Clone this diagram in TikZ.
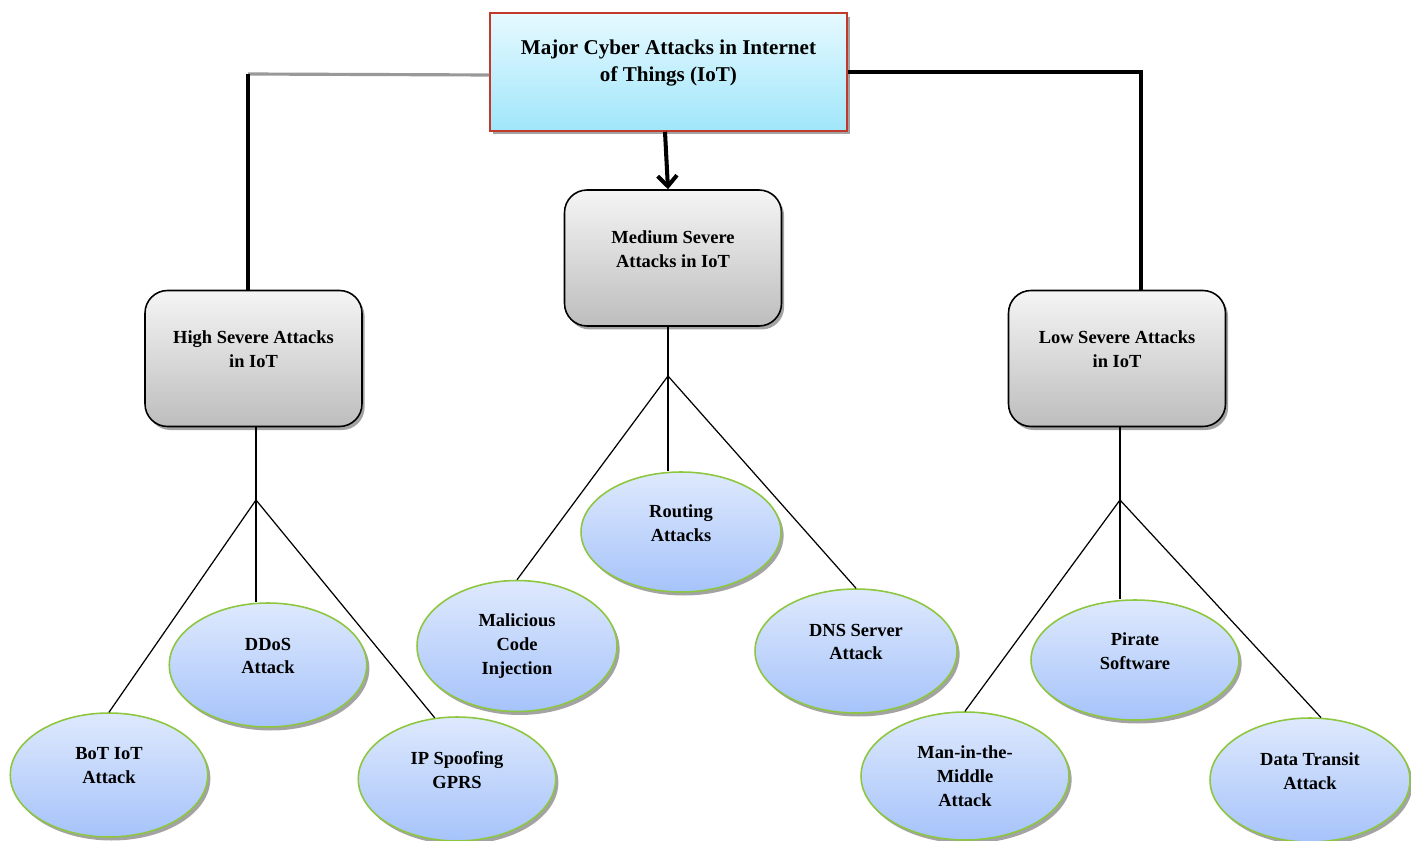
\documentclass[tikz,border=0pt]{standalone}
\usepackage{fontspec}
\setmainfont{Liberation Serif}
\usetikzlibrary{arrows.meta,shapes.geometric,shadows}
\definecolor{topfill}{HTML}{E6F9FF}
\definecolor{topfillb}{HTML}{A0E6FA}
\definecolor{topedge}{HTML}{C0392B}
\definecolor{boxgray}{HTML}{BDBDBD}
\definecolor{ovaltop}{HTML}{DEE9FD}
\definecolor{ovalbot}{HTML}{A6C3FA}
\definecolor{ovaledge}{HTML}{8DC63F}
% extra empty line, pushes the text up a little
\newcommand{\lift}{\\[-3pt]\mbox{}}
\tikzset{
  boxfont/.style={font=\bfseries\fontsize{10.5}{13.5}\selectfont},
  shade/.style={drop shadow={shadow xshift=1.5pt, shadow yshift=-2pt, fill=black!45, opacity=0.8}},
  topbox/.style={rectangle, draw=topedge, line width=0.9pt, top color=topfill, bottom color=topfillb,
    minimum width=7.14cm, minimum height=2.36cm, align=center, shade,
    font=\bfseries\fontsize{12}{15.5}\selectfont},
  sevbox/.style={rectangle, rounded corners=0.45cm, draw=black, line width=0.9pt, top color=black!4,
    bottom color=boxgray, minimum width=4.34cm, minimum height=2.72cm, align=center, shade, boxfont},
  attack/.style={ellipse, draw=ovaledge, line width=0.9pt, top color=ovaltop, bottom color=ovalbot,
    minimum width=3.95cm, minimum height=2.48cm, inner sep=0pt, align=center, shade, boxfont},
  thickbar/.style={line width=2.3pt},
  greybar/.style={line width=1.8pt, draw=black!40},
  treeline/.style={line width=0.7pt},
}

\begin{document}
\begin{tikzpicture}[x=0.02cm, y=-0.02cm]
  \useasboundingbox (0,0) rectangle (1411,841);

  % top and the three levels
  \node[topbox] (top) at (668.5,72) {Major Cyber Attacks in Internet\\of Things (IoT)\lift};
  \node[sevbox] (medium) at (673,258) {Medium Severe\\Attacks in IoT\lift};
  \node[sevbox] (high) at (253.5,358.5) {High Severe Attacks\\in IoT\lift};
  \node[sevbox] (low) at (1117,358.5) {Low Severe Attacks\\in IoT\lift};

  % attacks
  \node[attack] (bot) at (109,775) {BoT IoT\\Attack\lift};
  \node[attack] (ddos) at (268,665) {DDoS\\Attack\lift};
  \node[attack] (spoof) at (457,779) {IP Spoofing\\GPRS\lift};
  \node[attack, minimum width=4cm, minimum height=2.62cm] (inject) at (517,646) {Malicious\\Code\\Injection};
  \node[attack, minimum width=4cm, minimum height=2.4cm] (routing) at (681,532) {Routing\\Attacks\lift};
  \node[attack, minimum width=4.04cm] (dns) at (856,651) {DNS Server\\Attack\lift};
  \node[attack, minimum width=4.16cm, minimum height=2.56cm] (mitm) at (965,776) {Man-in-the-\\Middle\\Attack};
  \node[attack, minimum width=4.16cm, minimum height=2.4cm] (pirate) at (1135,660) {Pirate\\Software\lift};
  \node[attack, minimum width=4cm] (transit) at (1310,780) {Data Transit\\Attack\lift};

  % bars from the top box
  \coordinate (lcorner) at (248,74);
  \coordinate (rcorner) at (1141,72);
  \draw[greybar] ([yshift=-0.06cm]top.west) -- (lcorner);
  \draw[thickbar] (lcorner) -- (lcorner |- high.north);
  \draw[thickbar] (top.east) -- (rcorner) -- (rcorner |- low.north);
  \draw[thickbar, -{Straight Barb[length=6pt, width=11pt]}] ([xshift=-0.07cm]top.south) -- ([xshift=-0.1cm]medium.north);

  % branches
  \coordinate (hsplit) at (256,500);
  \coordinate (msplit) at (668,376);
  \coordinate (lsplit) at (1120,500);
  \draw[treeline] (high.south -| hsplit) -- (hsplit);
  \draw[treeline] (hsplit) -- (bot.north);
  \draw[treeline] (hsplit) -- (hsplit |- ddos.north);
  \draw[treeline] (hsplit) -- (spoof.110);
  \draw[treeline] (medium.south -| msplit) -- (msplit);
  \draw[treeline] (msplit) -- (inject.north);
  \draw[treeline] (msplit) -- (msplit |- routing.north);
  \draw[treeline] (msplit) -- (dns.north);
  \draw[treeline] (low.south -| lsplit) -- (lsplit);
  \draw[treeline] (lsplit) -- (mitm.north);
  \draw[treeline] (lsplit) -- (lsplit |- pirate.north);
  \draw[treeline] (lsplit) -- (transit.80);
\end{tikzpicture}
\end{document}
